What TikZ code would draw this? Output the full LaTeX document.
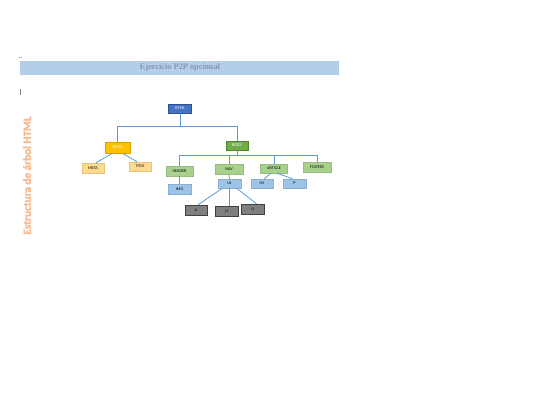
\documentclass[tikz,border=0pt]{standalone}
\usepackage{fontspec}
\setmainfont{Liberation Serif}
\newfontfamily\boxfont{Carlito}
\newfontfamily\sidefont[FakeBold=2]{Carlito Bold}
\usetikzlibrary{positioning}

\definecolor{barblue}{RGB}{180,205,232}
\definecolor{titlegray}{RGB}{132,151,176}
\definecolor{htmlblue}{RGB}{68,114,196}
\definecolor{headgold}{RGB}{255,192,0}
\definecolor{bodygreen}{RGB}{112,173,71}
\definecolor{paleorange}{RGB}{255,217,140}
\definecolor{palegreen}{RGB}{169,209,142}
\definecolor{paleblue}{RGB}{157,195,230}
\definecolor{ligray}{RGB}{127,127,127}
\definecolor{linkblue}{RGB}{91,155,213}
\definecolor{sideorange}{RGB}{246,185,145}

\begin{document}
\begin{tikzpicture}[x=1pt,y=-1pt,
	box/.style={draw,line width=.4pt,minimum width=23pt,minimum height=9pt,
		inner sep=0pt,font=\boxfont\fontsize{4.2}{5}\selectfont},
	conn/.style={linkblue,line width=.8pt}]
	\useasboundingbox (0,0) rectangle (540,405);
	
	% title bar
	\fill[barblue] (20,61) rectangle (339,75);
	\node[titlegray,font=\bfseries\fontsize{8.3}{10}\selectfont] (title) at (180,68)
	{Ejercicio P2P opcional};
	\draw[gray!60,line width=.4pt] (19,57.5) -- (22,57.5);
	\draw[gray,line width=.5pt] (20,89) -- (20,95);
	
	% side label
	\node[sideorange,rotate=90,font=\sidefont\fontsize{11.2}{13}\selectfont]
	(side) at (27,175.5) {Estructura de árbol HTML};
	
	% tree
	\node[box,fill=htmlblue,draw=htmlblue!70!black,text=white] (html) at (180,108.5) {HTML};
	\node[box,fill=headgold,draw=headgold!85!black,text=white,minimum width=25pt,
	minimum height=11pt] (head) at (117.5,147.5) {HEAD};
	\node[box,fill=bodygreen,draw=bodygreen!75!black,text=white,minimum width=22pt]
	(body) at (237,145.5) {BODY};
	
	\node[box,fill=paleorange,draw=paleorange!90!black,minimum width=22pt,
	minimum height=10pt] (meta) at (93,168) {META};
	\node[box,fill=paleorange,draw=paleorange!90!black,minimum width=22pt]
	(ttl) at (140,166.5) {TITLE};
	
	\node[box,fill=palegreen,draw=palegreen!90!black,minimum width=27pt,
	minimum height=10pt] (header) at (179.5,171) {HEADER};
	\node[box,fill=palegreen,draw=palegreen!90!black,minimum width=28pt,
	minimum height=10pt] (nav) at (229,169) {NAV};
	\node[box,fill=palegreen,draw=palegreen!90!black,minimum width=27pt]
	(article) at (274,168.5) {ARTICLE};
	\node[box,fill=palegreen,draw=palegreen!90!black,minimum width=28pt,
	minimum height=10pt] (footer) at (317,167) {FOOTER};
	
	\node[box,fill=paleblue,draw=paleblue!90!black,minimum height=10pt]
	(img) at (179.5,189) {IMG};
	\node[box,fill=paleblue,draw=paleblue!90!black] (ul) at (229.5,183.5) {UL};
	\node[box,fill=paleblue,draw=paleblue!90!black,minimum width=22pt]
	(hone) at (262,183.5) {H1};
	\node[box,fill=paleblue,draw=paleblue!90!black] (par) at (294.5,183.5) {P};
	
	\node[box,fill=ligray,draw=black!75,minimum width=22pt,minimum height=10pt]
	(lione) at (196,210) {LI};
	\node[box,fill=ligray,draw=black!75,minimum height=10pt]
	(litwo) at (226.5,211) {LI};
	\node[box,fill=ligray,draw=black!75,minimum height=10pt]
	(lithree) at (252.5,209) {LI};
	
	% connectors
	\coordinate (htmlbus) at (180,126);
	\coordinate (bodybus) at (237,155);
	\draw[conn] (html.south) -- (htmlbus);
	\draw[conn] (head.north) -- (head.north |- htmlbus) -- (body.north |- htmlbus)
	-- (body.north);
	\draw[conn] (body.south) -- (bodybus);
	\draw[conn] (header.north) -- (header.north |- bodybus) -- (footer.north |- bodybus)
	-- (footer.north);
	\draw[conn] (nav.north |- bodybus) -- (nav.north);
	\draw[conn] (article.north |- bodybus) -- (article.north);
	
	\draw[conn] ([xshift=-5pt]head.south) -- ([xshift=3pt]meta.north);
	\draw[conn] ([xshift=5pt]head.south) -- ([xshift=-3pt]ttl.north);
	\draw[conn] (header.south) -- (img.north);
	\draw[conn] (nav.south) -- (ul.north);
	\draw[conn] ([xshift=-3pt]article.south) -- ([xshift=2pt]hone.north);
	\draw[conn] ([xshift=3pt]article.south) -- ([xshift=-2pt]par.north);
	\draw[conn] ([xshift=-7pt]ul.south) -- ([xshift=2pt]lione.north);
	\draw[conn] (ul.south) -- (ul.south |- litwo.north);
	\draw[conn] ([xshift=7pt]ul.south) -- ([xshift=4pt]lithree.north);
\end{tikzpicture}
\end{document}
